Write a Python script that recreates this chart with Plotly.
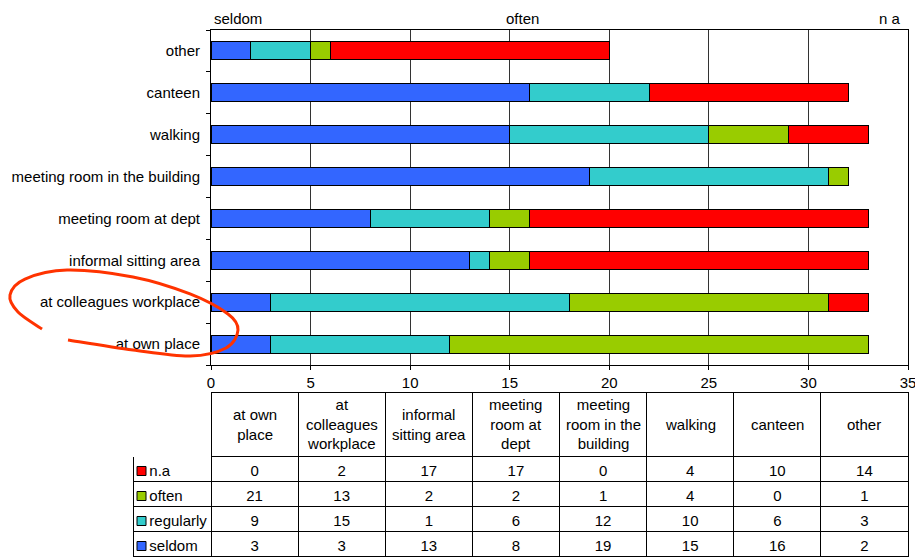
import plotly.graph_objects as go

# ---- data -------------------------------------------------------------
categories = [
    "at own place", "at colleagues workplace", "informal sitting area",
    "meeting room at dept", "meeting room in the building", "walking",
    "canteen", "other",
]
header_labels = [
    "at own<br>place", "at<br>colleagues<br>workplace", "informal<br>sitting area",
    "meeting<br>room at<br>dept", "meeting<br>room in the<br>building", "walking",
    "canteen", "other",
]
seldom = [3, 3, 13, 8, 19, 15, 16, 2]
regularly = [9, 15, 1, 6, 12, 10, 6, 3]
often = [21, 13, 2, 2, 1, 4, 0, 1]
na = [0, 2, 17, 17, 0, 4, 10, 14]
x_ticks = [0, 5, 10, 15, 20, 25, 30, 35]

series_names = ["seldom", "regularly", "often", "n.a"]
series_values = [seldom, regularly, often, na]
series_colors = ["#3366FF", "#33CCCC", "#99CC00", "#FF0000"]

# ---- page geometry ----------------------------------------------------
W, H = 915, 557
M_L, M_R, M_T, M_B = 0, 7, 30, 0
PW, PH = W - M_L - M_R, H - M_T - M_B
FONT = "Liberation Sans, Arial, sans-serif"
PLOT_LEFT, PLOT_RIGHT, PLOT_BOTTOM = 211, 908, 365


def px(x):
    return (x - M_L) / PW


def py(y):
    return (H - M_B - y) / PH


fig = go.Figure()

for name, vals, col in zip(series_names, series_values, series_colors):
    fig.add_trace(go.Bar(
        y=categories, x=vals, name=name, orientation="h",
        marker=dict(color=col, line=dict(color="black", width=1)),
        showlegend=False, xaxis="x", yaxis="y",
    ))

# ---- data table under the chart --------------------------------------
table_rows = ["n.a", "often", "regularly", "seldom"]
row_series = [na, often, regularly, seldom]
row_colors = ["#FF0000", "#99CC00", "#33CCCC", "#3366FF"]
label_col = ["\u00a0\u00a0" + r for r in table_rows]
value_cols = [[s[i] for s in row_series] for i in range(len(categories))]

TBL_TOP, HDR_H, ROW_H = 392, 64.5, 25
TBL_LEFT, FIRST_W = 133, 78
col_w = (PLOT_RIGHT - PLOT_LEFT) / len(categories)

fig.add_trace(go.Table(
    domain=dict(x=[px(TBL_LEFT), 1], y=[0, py(TBL_TOP)]),
    columnwidth=[FIRST_W] + [col_w] * len(categories),
    header=dict(
        values=[""] * (len(categories) + 1),
        height=HDR_H,
        fill_color="white",
        line=dict(color=["white"] + ["black"] * len(categories), width=1),
        font=dict(family=FONT, size=15, color="black"),
    ),
    cells=dict(
        values=[label_col] + value_cols,
        height=ROW_H,
        align=["left"] + ["center"] * len(categories),
        fill_color="white",
        line=dict(color="black", width=1),
        font=dict(family=FONT, size=15, color="black"),
    ),
))

annotations = []
# column headings, centred inside each header cell
for i, lab in enumerate(header_labels):
    annotations.append(dict(
        text=lab, x=px(PLOT_LEFT + (i + 0.5) * col_w), y=py(TBL_TOP + HDR_H / 2),
        xanchor="center", yanchor="middle", align="center",
    ))

# legend swatches in the first table column
shapes = []
for i, c in enumerate(row_colors):
    cy = TBL_TOP + HDR_H + (i + 0.5) * ROW_H + 2
    shapes.append(dict(
        type="rect", xref="paper", yref="paper",
        x0=px(137), x1=px(146), y0=py(cy + 4.5), y1=py(cy - 4.5),
        fillcolor=c, line=dict(color="black", width=1), layer="above",
    ))

# hand-drawn highlight loop around the two workplace rows
loop = [(68, 340), (133, 350), (190, 356), (226, 348), (238, 330), (228, 314),
        (190, 294), (133, 277), (67, 270), (25, 279), (10, 295), (18, 312), (42, 329)]


def smooth_path(pts):
    d = "M {:.4f},{:.4f}".format(px(pts[0][0]), py(pts[0][1]))
    n = len(pts)
    for i in range(n - 1):
        p0 = pts[max(i - 1, 0)]
        p1 = pts[i]
        p2 = pts[i + 1]
        p3 = pts[min(i + 2, n - 1)]
        c1 = (p1[0] + (p2[0] - p0[0]) / 6, p1[1] + (p2[1] - p0[1]) / 6)
        c2 = (p2[0] - (p3[0] - p1[0]) / 6, p2[1] - (p3[1] - p1[1]) / 6)
        d += " C {:.4f},{:.4f} {:.4f},{:.4f} {:.4f},{:.4f}".format(
            px(c1[0]), py(c1[1]), px(c2[0]), py(c2[1]), px(p2[0]), py(p2[1]))
    return d


shapes.append(dict(
    type="path", xref="paper", yref="paper", path=smooth_path(loop),
    line=dict(color="#FF3300", width=3), layer="above",
))

annotations += [
    dict(text="seldom", x=px(212), y=py(18), xanchor="left", yanchor="middle"),
    dict(text="often", x=px(522.5), y=py(18), xanchor="center", yanchor="middle"),
    dict(text="n a", x=px(903), y=py(18), xanchor="right", yanchor="middle"),
]
for a in annotations:
    a.update(xref="paper", yref="paper", showarrow=False,
             font=dict(family=FONT, size=15, color="black"))

fig.update_layout(
    width=W, height=H,
    margin=dict(l=M_L, r=M_R, t=M_T, b=M_B, pad=0),
    template="none",
    paper_bgcolor="white", plot_bgcolor="white",
    barmode="stack", bargap=0.57,
    font=dict(family=FONT, size=15, color="black"),
    shapes=shapes, annotations=annotations,
    xaxis=dict(
        domain=[px(PLOT_LEFT), px(PLOT_RIGHT)], range=[0, 35], tickvals=x_ticks,
        showgrid=True, gridcolor="#333333", gridwidth=1, zeroline=False,
        showline=True, linecolor="black", linewidth=1, mirror=True,
        ticks="outside", ticklen=4, tickcolor="black",
        ticklabeloverflow="allow",
        tickfont=dict(family=FONT, size=15, color="black"),
        automargin=False, fixedrange=True,
    ),
    yaxis=dict(
        domain=[py(PLOT_BOTTOM), 1], type="category",
        categoryorder="array", categoryarray=categories,
        showgrid=False, zeroline=False,
        showline=True, linecolor="black", linewidth=1, mirror=True,
        ticks="outside", ticklen=4, tickcolor="black", tickson="boundaries",
        ticklabelstandoff=7,
        tickfont=dict(family=FONT, size=15, color="black"),
        automargin=False, fixedrange=True,
    ),
)

fig.write_html("out.html")
